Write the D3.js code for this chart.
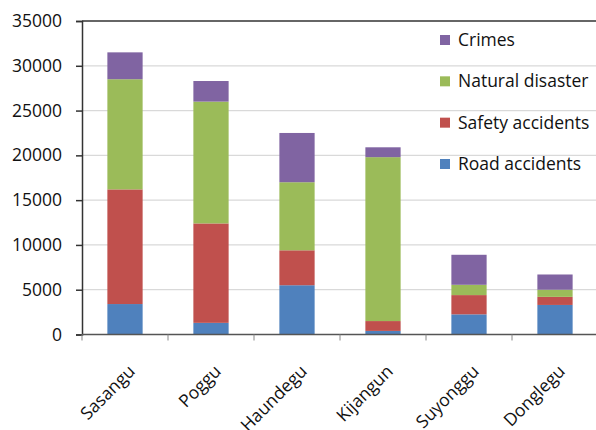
<!DOCTYPE html>
<html>
<head>
<meta charset="utf-8">
<script src="https://cdn.jsdelivr.net/npm/d3@7"></script>
<style>
  html, body { margin: 0; padding: 0; background: #fff; }
  svg { display: block; }
  text { font-family: "Open Sans", sans-serif; fill: #111; }
</style>
</head>
<body>
<svg id="chart" width="596" height="430"></svg>
<script>
const categories = ["Sasangu", "Poggu", "Haundegu", "Kijangun", "Suyonggu", "Donglegu"];
const seriesNames = ["Road accidents", "Safety accidents", "Natural disaster", "Crimes"];
const roadAccidents   = [3400, 1300, 5500, 400, 2250, 3300];
const safetyAccidents = [12800, 11100, 3900, 1100, 2150, 900];
const naturalDisaster = [12300, 13600, 7600, 18300, 1150, 800];
const crimes          = [3000, 2300, 5500, 1100, 3350, 1700];
const yTicks = [0, 5000, 10000, 15000, 20000, 25000, 30000, 35000];
const colors = ["#4F81BD", "#C0504D", "#9BBB59", "#8064A2"];

const seriesValues = [roadAccidents, safetyAccidents, naturalDisaster, crimes];
const table = categories.map((c, i) => {
  const row = { category: c };
  seriesNames.forEach((s, j) => row[s] = seriesValues[j][i]);
  return row;
});

const svg = d3.select("#chart");
const margin = { left: 82, top: 21, right: -2, bottom: 95 };
const W = 596, H = 430;
const plotW = 516;
const x0 = margin.left, y0 = 334.5, yTop = 21;

const x = d3.scaleBand().domain(categories).range([x0, x0 + plotW]).paddingInner(0.59).paddingOuter(0.295);
const y = d3.scaleLinear().domain([0, 35000]).range([y0, yTop]);

// gridlines
svg.append("g").selectAll("line").data(yTicks.filter(t => t > 0 && t < 35000)).join("line")
  .attr("x1", x0).attr("x2", x0 + plotW)
  .attr("y1", d => y(d)).attr("y2", d => y(d))
  .attr("stroke", "#d9d9d9").attr("stroke-width", 1.2);

// top border
svg.append("line").attr("x1", x0).attr("x2", x0 + plotW)
  .attr("y1", y(35000)).attr("y2", y(35000))
  .attr("stroke", "#333").attr("stroke-width", 1.5);

// bars
const stack = d3.stack().keys(seriesNames)(table);
svg.append("g").selectAll("g").data(stack).join("g")
  .attr("fill", (d, i) => colors[i])
  .selectAll("rect").data(d => d).join("rect")
  .attr("x", d => x(d.data.category))
  .attr("width", x.bandwidth())
  .attr("y", d => y(d[1]))
  .attr("height", d => y(d[0]) - y(d[1]));

// y axis
const yAxis = d3.axisLeft(y).tickValues(yTicks).tickSize(6).tickPadding(14).tickFormat(d3.format("d"));
const gy = svg.append("g").attr("transform", `translate(${x0},0)`).call(yAxis);
gy.select(".domain").attr("stroke", "#333").attr("stroke-width", 1.5);
gy.selectAll(".tick line").attr("stroke", "#333").attr("stroke-width", 1.5);
gy.selectAll(".tick text").attr("font-size", 17.5).attr("font-family", "Open Sans").attr("fill", "#111");

// x axis
const gx = svg.append("g").attr("transform", `translate(0,${y0})`);
gx.append("line").attr("x1", x0).attr("x2", x0 + plotW).attr("stroke", "#555").attr("stroke-width", 1.5);
const bounds = d3.range(categories.length + 1).map(i => x0 + i * plotW / categories.length);
gx.selectAll(".xt").data(bounds).join("line").attr("class", "xt")
  .attr("x1", d => d).attr("x2", d => d).attr("y1", 0).attr("y2", 6)
  .attr("stroke", "#888").attr("stroke-width", 1);
gx.selectAll(".xl").data(categories).join("text").attr("class", "xl")
  .attr("transform", d => `translate(${x(d) + x.bandwidth() / 2 + 11},${38}) rotate(-45)`)
  .attr("text-anchor", "end")
  .attr("font-size", 17.5)
  .text(d => d);

// legend
const legendOrder = ["Crimes", "Natural disaster", "Safety accidents", "Road accidents"];
const lg = svg.append("g");
const ly = d3.scalePoint().domain(legendOrder).range([40, 164]);
lg.selectAll("rect").data(legendOrder).join("rect")
  .attr("x", 440).attr("y", d => ly(d) - 5).attr("width", 10).attr("height", 10)
  .attr("fill", d => colors[seriesNames.indexOf(d)]);
lg.selectAll("text").data(legendOrder).join("text")
  .attr("x", 458).attr("y", d => ly(d)).attr("dy", "0.35em")
  .attr("font-size", 17.5)
  .text(d => d);
</script>
</body>
</html>
